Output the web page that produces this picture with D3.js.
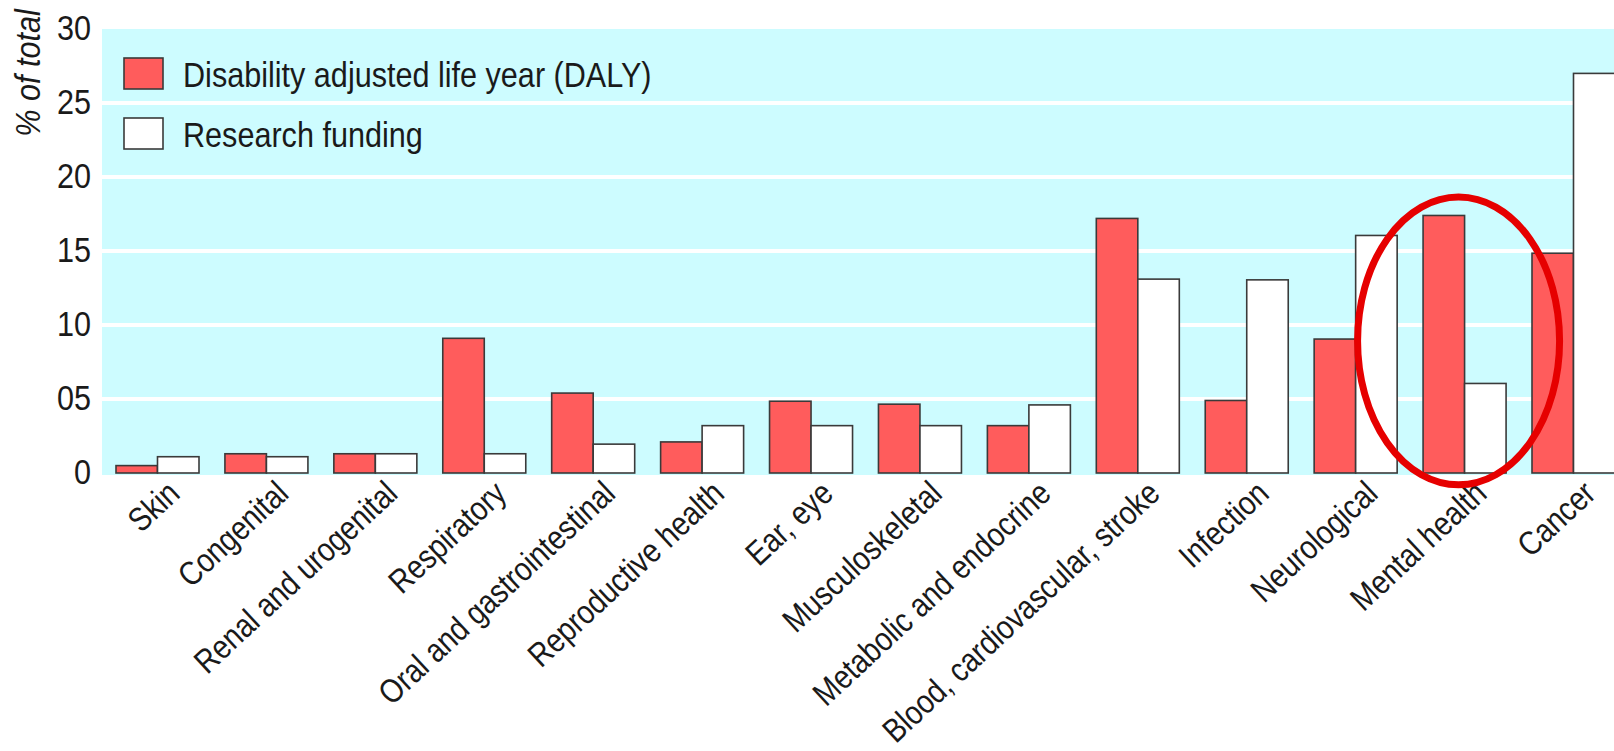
<!DOCTYPE html>
<html>
<head>
<meta charset="utf-8">
<script src="https://cdn.jsdelivr.net/npm/d3@7"></script>
<style>
  body { margin: 0; background: #fff; }
  svg text { font-family: "Liberation Sans", Arial, sans-serif; fill: #1a1a1a; }
</style>
</head>
<body>
<svg id="chart"></svg>
<script>
// categories and values (% of total)
var categories = ["Skin", "Congenital", "Renal and urogenital", "Respiratory",
  "Oral and gastrointestinal", "Reproductive health", "Ear, eye", "Musculoskeletal",
  "Metabolic and endocrine", "Blood, cardiovascular, stroke", "Infection",
  "Neurological", "Mental health", "Cancer"];
var daly    = [0.5, 1.3, 1.3, 9.1, 5.4, 2.1, 4.85, 4.65, 3.2, 17.2, 4.9, 9.05, 17.4, 14.85];
var funding = [1.1, 1.1, 1.3, 1.3, 1.95, 3.2, 3.2, 3.2, 4.6, 13.1, 13.05, 16.05, 6.05, 27.0];
var seriesNames = ["Disability adjusted life year (DALY)", "Research funding"];
var yTicks = [0, 5, 10, 15, 20, 25, 30];
var yTickLabels = ["0", "05", "10", "15", "20", "25", "30"];
var highlight = "Mental health";

var svgWidth = 1614, svgHeight = 751;
var plot = { left: 102, right: 1614, top: 29, bottom: 473 };
var colors = ["#ff5c5c", "#ffffff"];
var fontSize = 36;
var narrow = " scale(0.85,1)"; // fake a condensed face, none is installed

var svg = d3.select("#chart")
    .attr("width", svgWidth)
    .attr("height", svgHeight);

var x = d3.scaleBand()
    .domain(categories)
    .range([116, 1615])
    .paddingInner(0.238)
    .paddingOuter(0);

var xs = d3.scaleBand()
    .domain([0, 1])
    .range([0, x.bandwidth()]);

var y = d3.scaleLinear()
    .domain([0, 30])
    .range([plot.bottom, plot.top]);

// background panel
svg.append("rect")
    .attr("x", plot.left)
    .attr("y", plot.top)
    .attr("width", plot.right - plot.left)
    .attr("height", plot.bottom - plot.top + 2)
    .attr("fill", "#cdfcff");

// white gridlines
svg.append("g")
  .selectAll("line")
  .data(yTicks.filter(function(d) { return d > 0 && d < 30; }))
  .enter().append("line")
    .attr("x1", plot.left)
    .attr("x2", plot.right)
    .attr("y1", function(d) { return y(d); })
    .attr("y2", function(d) { return y(d); })
    .attr("stroke", "#fff")
    .attr("stroke-width", 4);

// y axis
var yAxis = svg.append("g")
    .attr("transform", "translate(91,0)")
    .call(d3.axisLeft(y)
        .tickValues(yTicks)
        .tickSize(0)
        .tickPadding(0)
        .tickFormat(function(d, i) { return yTickLabels[i]; }));
yAxis.select(".domain").remove();
yAxis.selectAll("text")
    .attr("font-size", fontSize)
    .attr("dy", "0.3em")
    .attr("transform", narrow)
    .style("font-family", "'Liberation Sans', Arial, sans-serif")
    .attr("fill", "#1a1a1a");

svg.append("text")
    .attr("transform", "translate(40,73) rotate(-90)" + narrow)
    .attr("text-anchor", "middle")
    .attr("font-size", fontSize)
    .attr("font-style", "italic")
    .text("% of total");

// bars
var rows = categories.map(function(c, i) { return { cat: c, vals: [daly[i], funding[i]] }; });

var groups = svg.append("g")
  .selectAll("g")
  .data(rows)
  .enter().append("g")
    .attr("transform", function(d) { return "translate(" + x(d.cat) + ",0)"; });

groups.selectAll("rect")
  .data(function(d) { return d.vals; })
  .enter().append("rect")
    .attr("x", function(d, i) { return xs(i); })
    .attr("y", function(d) { return y(d); })
    .attr("width", xs.bandwidth())
    .attr("height", function(d) { return y(0) - y(d); })
    .attr("fill", function(d, i) { return colors[i]; })
    .attr("stroke", "#3a3a3a")
    .attr("stroke-width", 1.6);

// x labels, rotated
svg.append("g")
  .selectAll("text")
  .data(categories)
  .enter().append("text")
    .attr("transform", function(d) {
        return "translate(" + (x(d) + x.bandwidth() / 2 + 24) + ",496) rotate(-43)" + narrow;
    })
    .attr("text-anchor", "end")
    .attr("font-size", 33.5)
    .text(function(d) { return d; });

// legend
var legend = svg.append("g");
seriesNames.forEach(function(name, i) {
    legend.append("rect")
        .attr("x", 124)
        .attr("y", 58 + i * 60)
        .attr("width", 39)
        .attr("height", 31)
        .attr("fill", colors[i])
        .attr("stroke", "#3a3a3a")
        .attr("stroke-width", 1.6);
    legend.append("text")
        .attr("transform", "translate(183," + (87 + i * 60) + ")" + narrow)
        .attr("font-size", fontSize)
        .text(name);
});

// red ellipse around the highlighted category
var hx = x(highlight) + x.bandwidth() / 2 - 6;
svg.append("ellipse")
    .attr("cx", hx)
    .attr("cy", (y(18.65) + y(-0.8)) / 2)
    .attr("rx", 101)
    .attr("ry", (y(-0.8) - y(18.65)) / 2)
    .attr("fill", "none")
    .attr("stroke", "#e60000")
    .attr("stroke-width", 7);
</script>
</body>
</html>
